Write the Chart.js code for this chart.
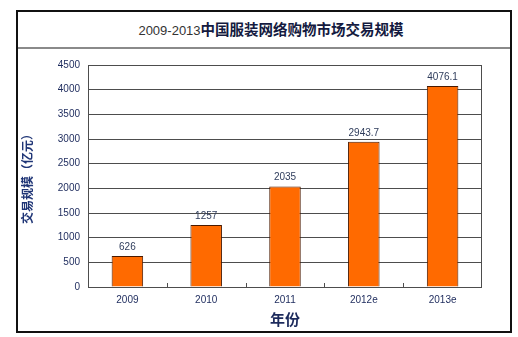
<!DOCTYPE html>
<html>
<head>
<meta charset="utf-8">
<script src="https://cdn.jsdelivr.net/npm/chart.js@4/dist/chart.umd.min.js"></script>
<style>
  html, body { margin: 0; padding: 0; background: #fff; }
  body { width: 518px; height: 337px; position: relative; overflow: hidden; }
  .frame {
    position: absolute; left: 16px; top: 10px; width: 492px; height: 319px;
    border: 2px solid #111; box-sizing: content-box;
  }
  .frame-title {
    height: 35px; line-height: 35px; text-align: center;
    border-bottom: 2px solid #8a8a8a; padding-left: 14px;
  }
  .frame-title .yr { font: 13px "Liberation Sans", sans-serif; color: #333; }
  .frame-title .zh { font: bold 14.5px "Noto Sans CJK SC", sans-serif; color: #141a40; }
  canvas { position: absolute; left: 0; top: 0; }
</style>
</head>
<body>
<div class="frame">
  <div class="frame-title"><span class="yr">2009-2013</span><span class="zh">中国服装网络购物市场交易规模</span></div>
</div>
<canvas id="c" width="518" height="337"></canvas>
<script>
// market size, 100 million yuan
const years = ["2009", "2010", "2011", "2012e", "2013e"];
const values = [626, 1257, 2035, 2943.7, 4076.1];
const valueLabels = ["626", "1257", "2035", "2943.7", "4076.1"];
const yTicks = [0, 500, 1000, 1500, 2000, 2500, 3000, 3500, 4000, 4500];

const NAVY = "#1c2a5c";
const GRID = "#4d4d4d";

// plot border, small category ticks on the x axis, value labels above bars
const decorations = {
  id: "decorations",
  beforeDatasetsDraw(chart) {
    const { ctx, chartArea: a, scales: { x } } = chart;
    ctx.save();
    ctx.strokeStyle = GRID;
    ctx.lineWidth = 1;
    ctx.strokeRect(a.left + 0.5, a.top + 0.5, a.right - a.left - 1, a.bottom - a.top);
    const step = x.getPixelForValue(1) - x.getPixelForValue(0);
    ctx.beginPath();
    for (let i = 1; i < years.length; i++) {
      const px = Math.round(x.getPixelForValue(i) - step / 2) + 0.5;
      ctx.moveTo(px, a.bottom);
      ctx.lineTo(px, a.bottom - 4);
    }
    ctx.stroke();
    ctx.restore();
  },
  afterDatasetsDraw(chart) {
    const { ctx } = chart;
    const meta = chart.getDatasetMeta(0);
    ctx.save();
    ctx.font = '10px "Liberation Sans", sans-serif';
    ctx.fillStyle = "#2f3d5c";
    ctx.textAlign = "center";
    ctx.textBaseline = "bottom";
    meta.data.forEach((bar, i) => {
      ctx.fillText(valueLabels[i], bar.x, bar.y - 4);
    });
    ctx.restore();
  }
};

new Chart(document.getElementById("c"), {
  type: "bar",
  data: {
    labels: years,
    datasets: [{
      data: values,
      backgroundColor: "#ff6a00",
      borderColor: "#4a1a00",
      borderWidth: 1,
      categoryPercentage: 1,
      barPercentage: 0.4
    }]
  },
  options: {
    responsive: false,
    animation: false,
    layout: { padding: { top: 65, right: 36, left: 0, bottom: 0 } },
    plugins: { legend: { display: false }, tooltip: { enabled: false } },
    scales: {
      x: {
        afterFit(scale) { scale.height = 50; },
        grid: { display: false, drawTicks: false },
        border: { display: false },
        ticks: {
          padding: 7,
          color: NAVY,
          font: { family: "Liberation Sans", size: 10 }
        },
        title: {
          display: true,
          text: "年份",
          color: NAVY,
          padding: { top: 0, bottom: 9 },
          font: { family: "Noto Sans CJK SC", size: 15, weight: "bold" }
        }
      },
      y: {
        min: 0,
        max: 4500,
        afterFit(scale) { scale.width = 88; },
        afterBuildTicks(scale) { scale.ticks = yTicks.map(v => ({ value: v })); },
        grid: { color: GRID, drawTicks: false },
        border: { display: false },
        ticks: {
          padding: 8,
          color: NAVY,
          font: { family: "Liberation Sans", size: 10 },
          callback: v => String(v)
        },
        title: {
          display: true,
          text: "交易规模（亿元）",
          color: "#1f3576",
          padding: { top: 20, bottom: 0 },
          font: { family: "Noto Sans CJK SC", size: 12, weight: "bold" }
        }
      }
    }
  },
  plugins: [decorations]
});
</script>
</body>
</html>
